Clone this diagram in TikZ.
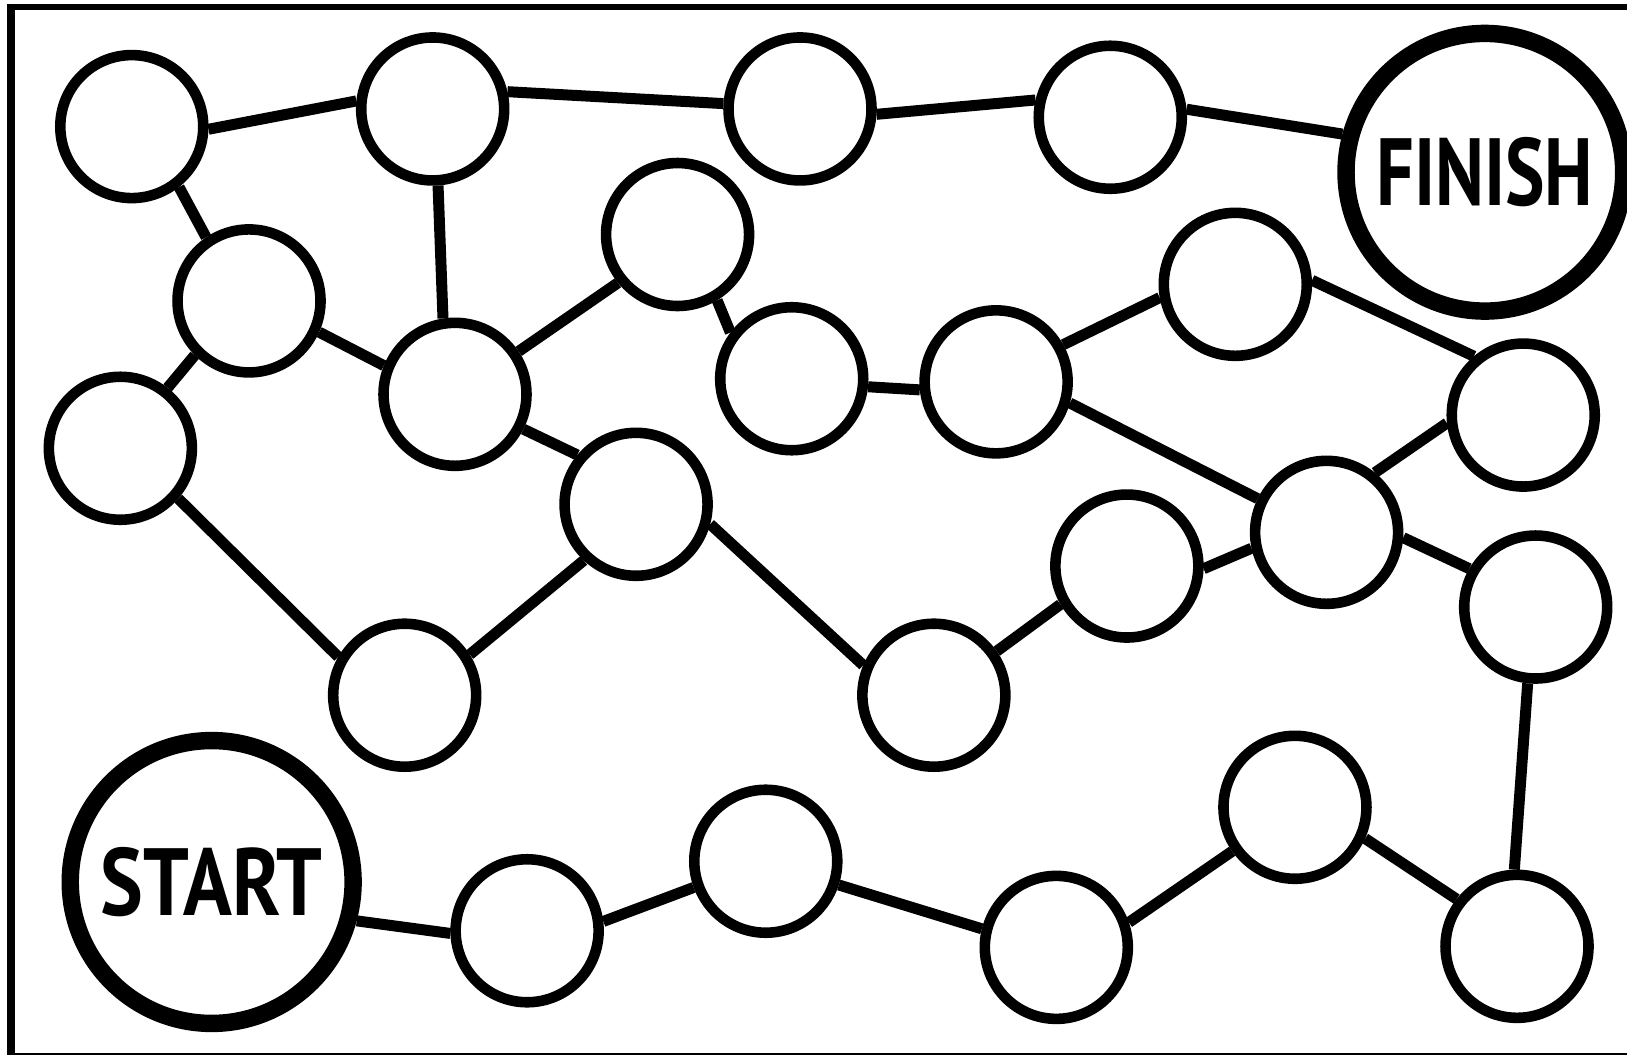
\documentclass[tikz,border=0pt]{standalone}
\usepackage{fontspec}
\newfontfamily\finfont[FakeStretch=0.78]{PT Sans}
\newfontfamily\startfont[FakeStretch=0.845]{PT Sans}
\begin{document}
\begin{tikzpicture}[x=0.5pt,y=-0.5pt,
  spot/.style={circle,draw,line width=5.1pt,minimum size=68.9pt,inner sep=0pt,fill=white},
  bigspot/.style={circle,draw,line width=8.4pt,inner sep=0pt,fill=white},
  link/.style={line width=5.3pt},
  framebar/.style={line width=#1}]
\useasboundingbox (0,0) rectangle (1568,1018);
% frame
\draw[framebar=2.9pt] (7,6.7) -- (1568,6.7);
\draw[framebar=3.7pt] (10.6,5) -- (10.6,1016.5);
\draw[framebar=1pt] (7,1015.5) -- (1568,1015.5);
% nodes
\node[spot] (n1) at (127,122) {};
\node[spot] (n2) at (417,105) {};
\node[spot] (n3) at (771,105) {};
\node[spot] (n4) at (1070,113) {};
\node[bigspot,minimum size=133.8pt,font=\finfont\bfseries\fontsize{46}{46}\selectfont] (fin) at (1431,166) {FINISH};
\node[spot] (n6) at (240,290) {};
\node[spot] (n7) at (653,226) {};
\node[spot] (n8) at (1190.5,274) {};
\node[spot] (n9) at (438.5,380) {};
\node[spot] (n10) at (763,365) {};
\node[spot] (n11) at (960,368) {};
\node[spot] (n12) at (1468,400) {};
\node[spot] (n13) at (116,432) {};
\node[spot] (n14) at (613,486) {};
\node[spot] (n15) at (1278.5,513) {};
\node[spot] (n16) at (1086,545.5) {};
\node[spot] (n17) at (1480,585) {};
\node[spot] (n18) at (390,670) {};
\node[spot] (n19) at (900,670) {};
\node[bigspot,minimum size=136.3pt,font=\startfont\bfseries\fontsize{46}{46}\selectfont] (start) at (204,850) {START};
\node[spot] (n21) at (508,897) {};
\node[spot] (n22) at (738,830) {};
\node[spot] (n23) at (1018,913) {};
\node[spot] (n24) at (1248,778) {};
\node[spot] (n25) at (1462,912) {};
% links
\draw[link] (n1.-2) -- (n2.174);
\draw[link] (n2.13) -- (n3.176);
\draw[link] (n3.-4) -- (n4.167);
\draw[link] (n4.6) -- (fin.165);
\draw[link] (n1.-52) -- (n6.124);
\draw[link] (n2.-86) -- (n9.99);
\draw[link] (n6.-24) -- (n9.158);
\draw[link] (n6.-135) -- (n13.52);
\draw[link] (n13.-41) -- (n18.150);
\draw[link] (n18.32) -- (n14.-133);
\draw[link] (n9.34) -- (n7.-141);
\draw[link] (n9.-27) -- (n14.140);
\draw[link] (n7.-59) -- (n10.143);
\draw[link] (n10.-6) -- (n11.-174);
\draw[link] (n11.29) -- (n8.-170);
\draw[link] (n8.3) -- (n12.130);
\draw[link] (n11.-16) -- (n15.154);
\draw[link] (n15.51) -- (n12.-174);
\draw[link] (n15.-168) -- (n16.-2);
\draw[link] (n15.-4) -- (n17.150);
\draw[link] (n16.-150) -- (n19.35);
\draw[link] (n14.-15) -- (n19.157);
\draw[link] (n17.-96) -- (n25.92);
\draw[link] (n25.142) -- (n24.-24);
\draw[link] (n24.-145) -- (n23.19);
\draw[link] (n23.166) -- (n22.-18);
\draw[link] (n22.-160) -- (n21.7);
\draw[link] (n21.-178) -- (start.-15);
\end{tikzpicture}
\end{document}
